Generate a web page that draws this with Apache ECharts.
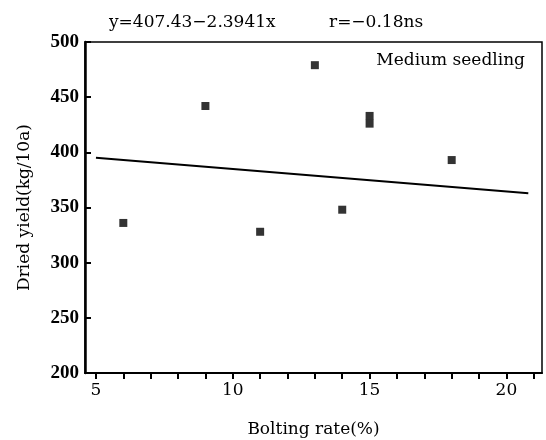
<!DOCTYPE html>
<html>
<head>
<meta charset="utf-8">
<script src="https://cdn.jsdelivr.net/npm/echarts@6/dist/echarts.min.js"></script>
<style>
  html, body { margin: 0; padding: 0; background: #fff; }
  #chart { width: 546px; height: 440px; }
</style>
</head>
<body>
<div id="chart"></div>
<script>
// observed points (bolting rate %, dried yield kg/10a)
const boltingRate = [6, 9, 11, 13, 14, 15, 15, 18];
const driedYield = [336, 442, 328, 479, 348, 433, 426, 393];

// regression line endpoints as drawn
const lineX = [5, 20.8];
const lineY = [395, 363];

const xTicks = [5, 6, 7, 8, 9, 10, 11, 12, 13, 14, 15, 16, 17, 18, 19, 20, 21];
const xLabels = [5, 10, 15, 20];

const equationText = "y=407.43\u22122.3941x";
const rText = "r=\u22120.18ns";
const groupText = "Medium seedling";

const serif = "DejaVu Serif";
const digits = "Liberation Serif";

const chart = echarts.init(document.getElementById("chart"));

const points = boltingRate.map((x, i) => [x, driedYield[i]]);
const linePts = lineX.map((x, i) => [x, lineY[i]]);

const textStyle = { fontFamily: serif, fontSize: 17, fontWeight: "normal", color: "#000" };

const option = {
  backgroundColor: "#fff",
  animation: false,
  grid: {
    left: 85,
    right: 4,
    top: 42,
    bottom: 67,
    containLabel: false,
    outerBoundsMode: "none",
    show: true,
    borderColor: "#000",
    borderWidth: 1.5,
  },
  title: [
    { text: equationText, left: 104, top: 9, textStyle: textStyle },
    { text: rText, left: 324, top: 9, textStyle: textStyle },
    { text: groupText, right: 16, top: 47, textStyle: textStyle },
  ],
  xAxis: {
    type: "value",
    min: 4.6,
    max: 21.3,
    name: "Bolting rate(%)",
    nameLocation: "middle",
    nameGap: 48,
    nameTextStyle: { fontFamily: serif, fontSize: 17, color: "#000" },
    axisLine: { show: true, lineStyle: { color: "#000", width: 2 } },
    axisTick: {
      show: true,
      inside: false,
      length: 6,
      customValues: xTicks,
      lineStyle: { color: "#000", width: 2 },
    },
    axisLabel: {
      customValues: xLabels,
      fontFamily: serif,
      fontSize: 17,
      color: "#000",
      margin: 9,
    },
    splitLine: { show: false },
  },
  yAxis: {
    type: "value",
    min: 200,
    max: 500,
    interval: 50,
    name: "Dried yield(kg/10a)",
    nameLocation: "middle",
    nameGap: 52,
    nameTextStyle: { fontFamily: serif, fontSize: 17, color: "#000" },
    axisLine: { show: true, lineStyle: { color: "#000", width: 2.5 } },
    axisTick: { show: true, inside: true, length: 6, lineStyle: { color: "#000", width: 2 } },
    axisLabel: { fontFamily: digits, fontSize: 19, fontWeight: "bold", color: "#000", margin: 6 },
    splitLine: { show: false },
  },
  series: [
    {
      type: "scatter",
      data: points,
      symbol: "rect",
      symbolSize: 8,
      itemStyle: { color: "#000" },
    },
    {
      type: "line",
      data: linePts,
      symbol: "none",
      lineStyle: { color: "#000", width: 2 },
    },
  ],
};

chart.setOption(option);
</script>
</body>
</html>
